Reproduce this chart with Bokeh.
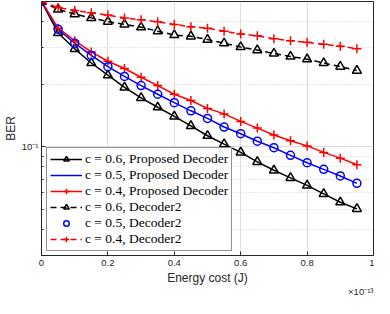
from bokeh.plotting import figure
from bokeh.models import Range1d, FixedTicker, CustomJSTickFormatter, Legend, LegendItem, Label
from bokeh.embed import file_html
from bokeh.resources import INLINE

energy = [0.0, 0.05, 0.10, 0.15, 0.20, 0.25, 0.30, 0.35, 0.40, 0.45,
          0.50, 0.55, 0.60, 0.65, 0.70, 0.75, 0.80, 0.85, 0.90, 0.95]

ber_c06_prop = [0.50, 0.353, 0.296, 0.253, 0.221, 0.193, 0.172, 0.155, 0.140, 0.126,
                0.113, 0.103, 0.094, 0.0847, 0.0771, 0.0709, 0.0652, 0.0594, 0.0541, 0.0503]
ber_c05_prop = [0.50, 0.368, 0.315, 0.275, 0.243, 0.218, 0.197, 0.179, 0.163, 0.149,
                0.137, 0.1245, 0.1156, 0.1064, 0.099, 0.091, 0.0838, 0.0779, 0.0724, 0.0667]
ber_c04_prop = [0.50, 0.372, 0.324, 0.286, 0.258, 0.238, 0.216, 0.197, 0.179, 0.167,
                0.153, 0.144, 0.1325, 0.123, 0.114, 0.107, 0.101, 0.094, 0.0882, 0.082]
ber_c06_dec2 = [0.50, 0.458, 0.435, 0.417, 0.400, 0.388, 0.376, 0.360, 0.345, 0.340,
                0.328, 0.315, 0.302, 0.292, 0.281, 0.272, 0.264, 0.253, 0.243, 0.2325]
ber_c05_dec2 = [0.50, 0.368, 0.315, 0.275, 0.243, 0.218, 0.197, 0.179, 0.163, 0.149,
                0.137, 0.1245, 0.1156, 0.1064, 0.099, 0.091, 0.0838, 0.0779, 0.0724, 0.0667]
ber_c04_dec2 = [0.50, 0.468, 0.453, 0.441, 0.430, 0.417, 0.408, 0.400, 0.388, 0.378,
                0.372, 0.360, 0.349, 0.342, 0.331, 0.324, 0.318, 0.311, 0.305, 0.296]

x_ticks = [0.0, 0.2, 0.4, 0.6, 0.8, 1.0]
y_major = [0.1]
y_minor = [0.03, 0.04, 0.05, 0.06, 0.07, 0.08, 0.09, 0.2, 0.3, 0.4, 0.5]
legend_labels = ["c = 0.6, Proposed Decoder", "c = 0.5, Proposed Decoder",
                 "c = 0.4, Proposed Decoder", "c = 0.6, Decoder2",
                 "c = 0.5, Decoder2", "c = 0.4, Decoder2"]
x_exponent = "\u00d710\u207b\u00b9\u00b3"

AX = "#262626"
SANS = "Liberation Sans"

p = figure(width=374, height=298, output_backend="svg", toolbar_location=None,
           y_axis_type="log", x_range=Range1d(0, 1), y_range=Range1d(0.03, 0.5),
           min_border_left=34, min_border_right=1, min_border_top=1, min_border_bottom=0)
p.outline_line_color = AX
p.outline_line_width = 1

xa = p.xaxis[0]
xa.ticker = FixedTicker(ticks=x_ticks)
xa.formatter = CustomJSTickFormatter(code="return tick.toFixed(1).replace(/\\.0$/, '')")
xa.axis_label = "Energy cost (J)"
ya = p.yaxis[0]
ya.ticker = FixedTicker(ticks=y_major, minor_ticks=y_minor)
ya.formatter = CustomJSTickFormatter(code="return '10\u207b\u00b9'")
ya.axis_label = "BER"
for ax in (xa, ya):
    ax.axis_line_color = AX
    ax.major_tick_line_color = AX
    ax.minor_tick_line_color = AX
    ax.major_tick_in = 4
    ax.major_tick_out = 0
    ax.minor_tick_in = 2
    ax.minor_tick_out = 0
    ax.major_label_text_font = SANS
    ax.major_label_text_font_size = "9.5px"
    ax.major_label_text_color = AX
    ax.axis_label_text_font = SANS
    ax.axis_label_text_font_size = "12px"
    ax.axis_label_text_font_style = "normal"
    ax.axis_label_text_color = AX
xa.major_label_standoff = 4
xa.axis_label_standoff = 2
ya.major_label_standoff = 3
ya.axis_label_standoff = 1

p.xgrid.ticker = FixedTicker(ticks=x_ticks)
p.xgrid.grid_line_color = "#dedede"
p.ygrid.ticker = FixedTicker(ticks=y_major, minor_ticks=y_minor)
p.ygrid.grid_line_color = "#dedede"
p.ygrid.minor_grid_line_color = "#d0d0d0"
p.ygrid.minor_grid_line_dash = "1 2"

LW = 1.5
r1l = p.line(energy, ber_c06_prop, line_color="black", line_width=LW)
r1m = p.scatter(energy, ber_c06_prop, marker="triangle", size=9, line_color="black",
                line_width=LW, fill_alpha=0)
r2l = p.line(energy, ber_c05_prop, line_color="blue", line_width=LW)
r3l = p.line(energy, ber_c04_prop, line_color="red", line_width=LW)
r3m = p.scatter(energy, ber_c04_prop, marker="cross", size=9, line_color="red", line_width=LW)
r4l = p.line(energy, ber_c06_dec2, line_color="black", line_width=LW, line_dash="6 4")
r4m = p.scatter(energy, ber_c06_dec2, marker="triangle", size=9, line_color="black",
                line_width=LW, fill_alpha=0)
r5m = p.scatter(energy, ber_c05_dec2, marker="circle", size=8, line_color="blue",
                line_width=LW, fill_alpha=0)
r6l = p.line(energy, ber_c04_dec2, line_color="red", line_width=LW, line_dash="6 4")
r6m = p.scatter(energy, ber_c04_dec2, marker="cross", size=9, line_color="red", line_width=LW)

items = [LegendItem(label=legend_labels[0], renderers=[r1l, r1m]),
         LegendItem(label=legend_labels[1], renderers=[r2l]),
         LegendItem(label=legend_labels[2], renderers=[r3l, r3m]),
         LegendItem(label=legend_labels[3], renderers=[r4l, r4m]),
         LegendItem(label=legend_labels[4], renderers=[r5m]),
         LegendItem(label=legend_labels[5], renderers=[r6l, r6m])]
leg = Legend(items=items, location=(5, 4), margin=0, padding=3, spacing=0,
             glyph_width=32, glyph_height=14, label_height=14, label_standoff=3,
             label_text_font="Liberation Serif", label_text_font_size="13.5px",
             label_text_color="black", border_line_color=AX, border_line_width=1,
             background_fill_color="white", background_fill_alpha=1)
p.add_layout(leg, "center")

p.add_layout(Label(x=1.0, y=2, x_units="data", y_units="screen", text=x_exponent,
                   text_align="right", text_baseline="bottom", text_font=SANS,
                   text_font_size="9.5px", text_color=AX), "below")

open("out.html", "w").write(file_html(p, INLINE))
